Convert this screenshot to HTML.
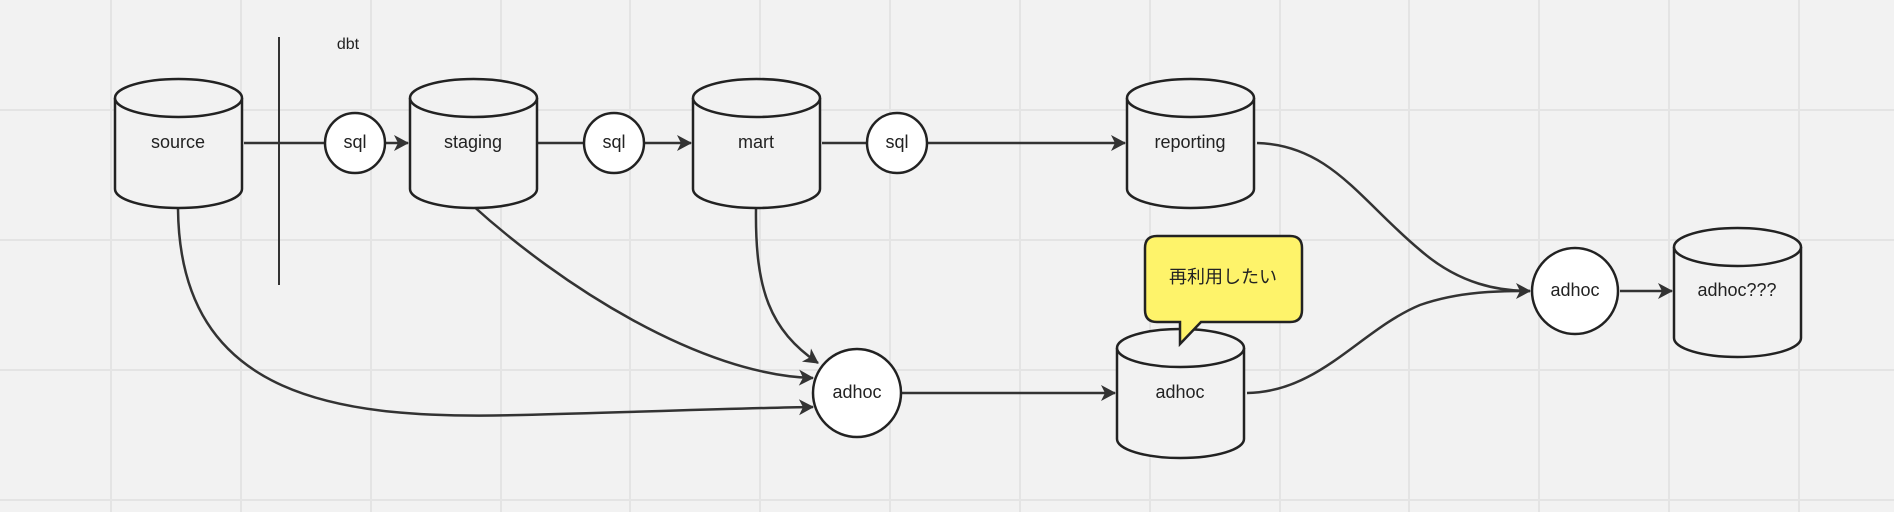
<!DOCTYPE html>
<html><head><style>
html,body{margin:0;padding:0;background:#f2f2f2}
svg{display:block}
text{font-family:"Liberation Sans","Noto Sans CJK JP",sans-serif;font-size:18px;fill:#222;text-anchor:middle;dominant-baseline:middle}
</style></head><body>
<svg width="1894" height="512" viewBox="0 0 1894 512">
<defs>
<marker id="a" markerWidth="10" markerHeight="10" refX="8" refY="5" orient="auto" markerUnits="userSpaceOnUse" viewBox="0 0 10 10">
<path d="M0,0 L9,5 L0,10 L2,5 Z" fill="#333"/>
</marker>
<marker id="b" markerWidth="20" markerHeight="20" refX="16" refY="10" orient="auto" markerUnits="userSpaceOnUse" viewBox="0 0 20 20">
<path d="M2,2 L17,10 L2,18 L6,10 Z" fill="#333"/>
</marker>
</defs>
<rect width="1894" height="512" fill="#f2f2f2"/>
<g stroke="#e4e4e4" stroke-width="2">
<line x1="111" y1="0" x2="111" y2="512"/><line x1="241" y1="0" x2="241" y2="512"/><line x1="371" y1="0" x2="371" y2="512"/><line x1="501" y1="0" x2="501" y2="512"/><line x1="630" y1="0" x2="630" y2="512"/><line x1="760" y1="0" x2="760" y2="512"/><line x1="890" y1="0" x2="890" y2="512"/><line x1="1020" y1="0" x2="1020" y2="512"/><line x1="1150" y1="0" x2="1150" y2="512"/><line x1="1280" y1="0" x2="1280" y2="512"/><line x1="1409" y1="0" x2="1409" y2="512"/><line x1="1539" y1="0" x2="1539" y2="512"/><line x1="1669" y1="0" x2="1669" y2="512"/><line x1="1799" y1="0" x2="1799" y2="512"/>
<line x1="0" y1="110" x2="1894" y2="110"/><line x1="0" y1="240" x2="1894" y2="240"/><line x1="0" y1="370" x2="1894" y2="370"/><line x1="0" y1="500" x2="1894" y2="500"/>
</g>

<!-- connectors -->
<g fill="none" stroke="#333" stroke-width="2.5">
<line x1="244" y1="143" x2="325" y2="143"/>
<line x1="385" y1="143" x2="408" y2="143" marker-end="url(#b)"/>
<line x1="538" y1="143" x2="585" y2="143"/>
<line x1="644" y1="143" x2="691" y2="143" marker-end="url(#b)"/>
<line x1="822" y1="143" x2="868" y2="143"/>
<line x1="927" y1="143" x2="1125" y2="143" marker-end="url(#b)"/>
<line x1="902" y1="393" x2="1115" y2="393" marker-end="url(#b)"/>
<line x1="1620" y1="291" x2="1672" y2="291" marker-end="url(#b)"/>
<path d="M178,209 C180,400 340,420 521,415 C640,412 740,408 813,407" marker-end="url(#b)"/>
<path d="M471,204 C560,285 700,375 813,378" marker-end="url(#b)"/>
<path d="M756,209 C755,290 770,330 818,363" marker-end="url(#b)"/>
<path d="M1257,143 C1330,145 1360,200 1420,250 C1460,285 1500,291 1530,291" marker-end="url(#b)"/>
<path d="M1247,393 C1320,392 1360,330 1420,305 C1460,291 1500,291 1530,291"/>
</g>
<line x1="279" y1="37" x2="279" y2="285" stroke="#333" stroke-width="2"/>
<text x="348" y="45" style="font-size:16px">dbt</text>

<!-- cylinders -->
<g fill="#f2f2f2" stroke="#222" stroke-width="2.5">
<path d="M115,98 V189 A63.5,19 0 0 0 242,189 V98"/><ellipse cx="178.5" cy="98" rx="63.5" ry="19"/>
<path d="M410,98 V189 A63.5,19 0 0 0 537,189 V98"/><ellipse cx="473.5" cy="98" rx="63.5" ry="19"/>
<path d="M693,98 V189 A63.5,19 0 0 0 820,189 V98"/><ellipse cx="756.5" cy="98" rx="63.5" ry="19"/>
<path d="M1127,98 V189 A63.5,19 0 0 0 1254,189 V98"/><ellipse cx="1190.5" cy="98" rx="63.5" ry="19"/>
<path d="M1117,348 V439 A63.5,19 0 0 0 1244,439 V348"/><ellipse cx="1180.5" cy="348" rx="63.5" ry="19"/>
<path d="M1674,247 V338 A63.5,19 0 0 0 1801,338 V247"/><ellipse cx="1737.5" cy="247" rx="63.5" ry="19"/>
</g>
<!-- circles -->
<g fill="#fff" stroke="#222" stroke-width="2.5">
<circle cx="355" cy="143" r="30"/>
<circle cx="614" cy="143" r="30"/>
<circle cx="897" cy="143" r="30"/>
<circle cx="857" cy="393" r="44"/>
<circle cx="1575" cy="291" r="43"/>
</g>
<!-- bubble -->
<path d="M1157,236 H1290 Q1302,236 1302,248 V310 Q1302,322 1290,322 H1201 L1180,344 V322 H1157 Q1145,322 1145,310 V248 Q1145,236 1157,236 Z" fill="#fef36a" stroke="#222" stroke-width="2.5"/>
<text x="1223" y="278">再利用したい</text>

<text x="178" y="143">source</text>
<text x="473" y="143">staging</text>
<text x="756" y="143">mart</text>
<text x="1190" y="143">reporting</text>
<text x="355" y="143">sql</text>
<text x="614" y="143">sql</text>
<text x="897" y="143">sql</text>
<text x="857" y="393">adhoc</text>
<text x="1180" y="393">adhoc</text>
<text x="1575" y="291">adhoc</text>
<text x="1737" y="291">adhoc???</text>
</svg>
</body></html>
